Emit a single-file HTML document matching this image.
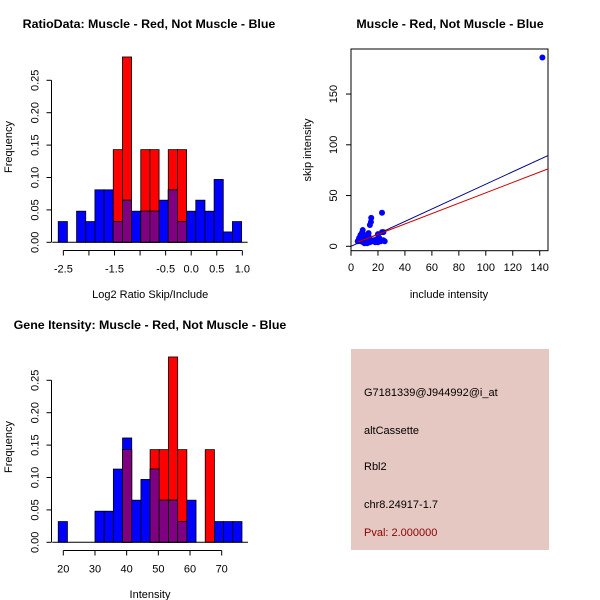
<!DOCTYPE html>
<html><head><meta charset="utf-8"><style>
body{margin:0;background:#fff;}
svg{display:block;font-family:"Liberation Sans",Arial,sans-serif;}
</style></head><body>
<svg id="c" width="600" height="600" xmlns="http://www.w3.org/2000/svg"></svg>
<script>
// ---- data ----
const ratioBinStart = -2.6, ratioBinWidth = 0.1793;
const ratioBlue = [0.032,0,0.048,0.032,0.081,0.081,0.032,0.065,0.048,0.048,0.048,0.065,0.081,0.032,0.048,0.065,0.048,0.097,0.016,0.032];
const ratioRed  = [0,0,0,0,0,0,0.143,0.286,0,0.143,0.143,0,0.143,0.143,0,0,0,0,0,0];
const ratioTicks = [-2.5,-1.5,-0.5,0.0,0.5,1.0];
const ratioTickLabels = ["-2.5","-1.5","-0.5","0.0","0.5","1.0"];
const ratioMinorTicks = [-2.0,-1.0];
const freqTicks = [0,0.05,0.10,0.15,0.20,0.25];
const freqTickLabels = ["0.00","0.05","0.10","0.15","0.20","0.25"];
const intBinStart = 18.4, intBinWidth = 2.9;
const intBlue = [0.032,0,0,0,0.048,0.048,0.113,0.161,0.065,0.097,0.113,0.065,0.065,0.032,0.065,0,0,0.032,0.032,0.032];
const intRed  = [0,0,0,0,0,0,0,0.143,0,0,0.143,0.143,0.286,0.143,0,0,0.143,0,0,0];
const intTicks = [20,30,40,50,60,70];
const intTickLabels = ["20","30","40","50","60","70"];
const scatterInclude = [142,23,15,14.8,14,8.7,13,8,9,7,6,5,10,11,12,16,18,20,22,24,25,21,19,17,14,12,9,7,6,8,10,13,15,11,9,7,20,23,24,10,12];
const scatterSkip    = [186,33,28,24,21,16,13,13,11,9,8,5,7,6,5,5,4,4,5,6,5,8,7,6,4,3,4,5,6,8,9,10,6,7,12,11,12,14,14,3,4];
const scatterXTicks = [0,20,40,60,80,100,120,140];
const scatterYTicks = [0,50,100,150];
const lineBlueSlope = 0.612, lineRedSlope = 0.522;

const svg = document.getElementById('c');
const NS = 'http://www.w3.org/2000/svg';
function mk(tag, attrs, parent){const e=document.createElementNS(NS,tag);for(const k in attrs)e.setAttribute(k,attrs[k]);(parent||svg).appendChild(e);return e;}
function txt(x,y,s,attrs,parent){const e=mk('text',Object.assign({x:x,y:y},attrs||{}),parent);e.textContent=s;return e;}

function hist(cfg){
  const g=mk('g',{});
  
  
  const X=v=>cfg.x0+(v-cfg.xv0)*cfg.xs, Y=v=>cfg.y0-v*cfg.ys;
  const n=cfg.blue.length;
  for(let i=0;i<n;i++){
    const a=X(cfg.start+i*cfg.w), b=X(cfg.start+(i+1)*cfg.w);
    const bl=cfg.blue[i], rd=cfg.red[i];
    if(rd>0){const r=mk('rect',{x:a,y:Y(rd),width:b-a,height:Y(0)-Y(rd),fill:'#ff0000',stroke:'#000','stroke-width':0.8},g);
      
      }
    if(bl>0){const r=mk('rect',{x:a,y:Y(bl),width:b-a,height:Y(0)-Y(bl),fill:'#0000ff',stroke:'#000','stroke-width':0.8},g);
      
      }
    const m=Math.min(bl,rd);
    if(m>0){const r=mk('rect',{x:a,y:Y(m),width:b-a,height:Y(0)-Y(m),fill:'#7f0080',stroke:'#000','stroke-width':0.8},g);
      
      }
  }
  mk('line',{x1:X(cfg.start)-6,x2:X(cfg.start+n*cfg.w)+6,y1:Y(0),y2:Y(0),stroke:'#000'},g);
  const ya=mk('g',{},g);
  
  
  const ax=cfg.yAxisX;
  mk('line',{x1:ax,x2:ax,y1:Y(freqTicks[0]),y2:Y(freqTicks[freqTicks.length-1]),stroke:'#000'},ya);
  freqTicks.forEach((t,i)=>{mk('line',{x1:ax-5,x2:ax,y1:Y(t),y2:Y(t),stroke:'#000'},ya);
    txt(ax-13,Y(t),freqTickLabels[i],{'font-size':11,'text-anchor':'middle',transform:`rotate(-90 ${ax-13} ${Y(t)})`},ya);});
  const xa=mk('g',{},g);
  
  
  const ay=cfg.xAxisY;
  mk('line',{x1:X(cfg.ticks[0]),x2:X(cfg.ticks[cfg.ticks.length-1]),y1:ay,y2:ay,stroke:'#000'},xa);
  cfg.ticks.forEach((t,i)=>{mk('line',{x1:X(t),x2:X(t),y1:ay,y2:ay+5,stroke:'#000'},xa);
    txt(X(t),ay+22,cfg.labels[i],{'font-size':11,'text-anchor':'middle'},xa);});
  (cfg.minor||[]).forEach(t=>mk('line',{x1:X(t),x2:X(t),y1:ay,y2:ay+5,stroke:'#000'},xa));
  const xt=txt(cfg.x0+(cfg.xTitleX||0),cfg.xTitleY,cfg.xTitle,{'font-size':11,'text-anchor':'middle'},g);
  
  
  const yt=txt(12,cfg.yTitleY,'Frequency',{'font-size':11,'text-anchor':'middle',transform:`rotate(-90 12 ${cfg.yTitleY})`},g);
  
  
  const ti=txt(cfg.titleX,cfg.titleY,cfg.title,{'font-size':12.4,'font-weight':'bold','text-anchor':'middle'},g);
  
  
}

hist({name:'ratio-histogram',x0:191.2,xv0:0,xs:51.14,y0:242.3,ys:648,start:ratioBinStart,w:ratioBinWidth,blue:ratioBlue,red:ratioRed,
  yAxisX:51.5,xAxisY:250.5,ticks:ratioTicks,labels:ratioTickLabels,minor:ratioMinorTicks,
  xTitle:'Log2 Ratio Skip/Include',xTitleX:-41,xTitleY:298,yTitleY:147,title:'RatioData: Muscle - Red, Not Muscle - Blue',titleX:149,titleY:28});
hist({name:'intensity-histogram',x0:63.3,xv0:20,xs:3.168,y0:542.3,ys:648,start:intBinStart,w:intBinWidth,blue:intBlue,red:intRed,
  yAxisX:51.5,xAxisY:550.5,ticks:intTicks,labels:intTickLabels,
  xTitle:'Intensity',xTitleX:86.7,xTitleY:598,yTitleY:447,title:'Gene Itensity: Muscle - Red, Not Muscle - Blue',titleX:150,titleY:329});

(function(){
  const g=mk('g',{});
  
  
  const X=v=>351+v*1.348, Y=v=>246.3-v*1.015;
  const t=txt(450,28,'Muscle - Red, Not Muscle - Blue',{'font-size':12.4,'font-weight':'bold','text-anchor':'middle'},g);
  
  
  mk('rect',{x:351,y:49,width:197,height:201.7,fill:'none',stroke:'#000'},g);
  const pts=mk('g',{},g);
  
  
  scatterInclude.forEach((v,i)=>{const c=mk('circle',{cx:X(v),cy:Y(scatterSkip[i]),r:3,fill:'#0000ff'},pts);
    
    });
  const xEnd=(548-351)/1.348;
  const bl=mk('line',{x1:X(0),y1:Y(0),x2:X(xEnd),y2:Y(xEnd*lineBlueSlope),stroke:'#00008b','stroke-width':1},g);
  
  
  const rl=mk('line',{x1:X(5),y1:Y(5*lineRedSlope+1.5),x2:X(xEnd),y2:Y(xEnd*lineRedSlope),stroke:'#cc0000','stroke-width':1},g);
  
  
  const xa=mk('g',{},g);
  
  
  scatterXTicks.forEach(v=>{mk('line',{x1:X(v),x2:X(v),y1:250.7,y2:255.7,stroke:'#000'},xa);
    txt(X(v),271,String(v),{'font-size':11,'text-anchor':'middle'},xa);});
  const ya=mk('g',{},g);
  
  
  scatterYTicks.forEach(v=>{mk('line',{x1:346,x2:351,y1:Y(v),y2:Y(v),stroke:'#000'},ya);
    txt(337,Y(v),String(v),{'font-size':11,'text-anchor':'middle',transform:`rotate(-90 337 ${Y(v)})`},ya);});
  const xt=txt(449,298,'include intensity',{'font-size':11,'text-anchor':'middle'},g);
  
  
  const yt=txt(311,150,'skip intensity',{'font-size':11,'text-anchor':'middle',transform:'rotate(-90 311 150)'},g);
  
  
})();

(function(){
  const g=mk('g',{});
  
  
  mk('rect',{x:351,y:349,width:198,height:201,fill:'#e6c8c2'},g);
  const lines=[['G7181339@J944992@i_at',396,'#000','probe-id'],['altCassette',434,'#000','event-type'],['Rbl2',470,'#000','gene-name'],['chr8.24917-1.7',508,'#000','location'],['Pval: 2.000000',536,'#8b0000','p-value']];
  lines.forEach(l=>{const t=txt(364,l[1],l[0],{'font-size':11,fill:l[2]},g);
    
    });
})();
</script>
</body></html>
